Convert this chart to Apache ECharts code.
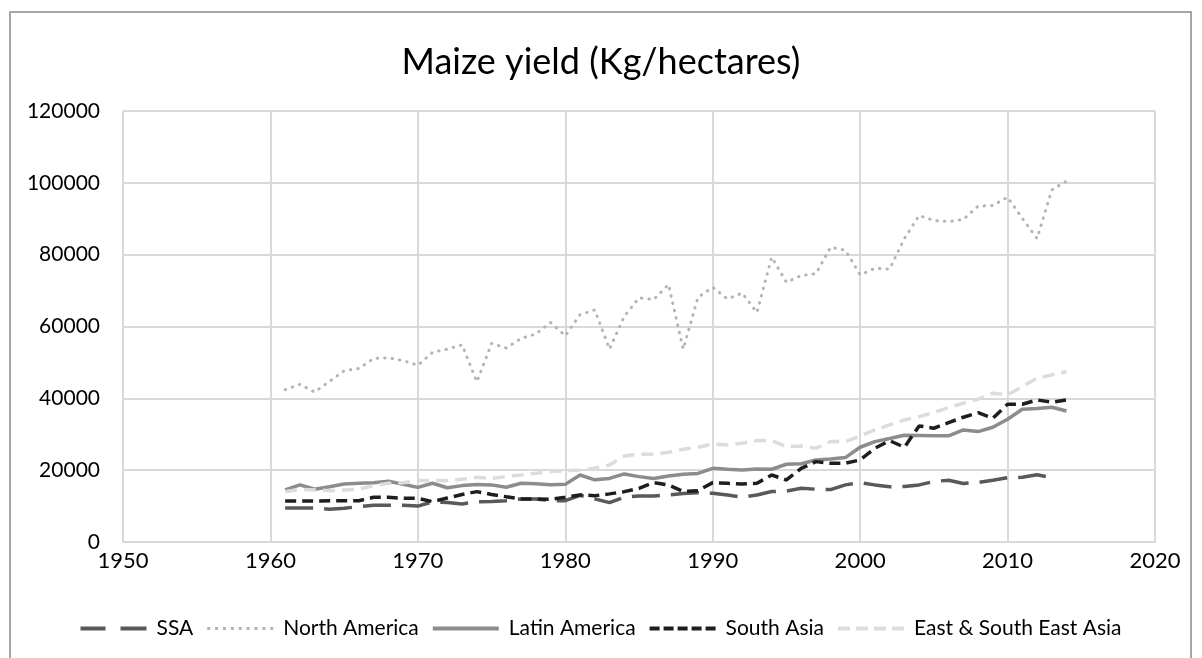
<!DOCTYPE html>
<html>
<head>
<meta charset="utf-8">
<script src="https://cdn.jsdelivr.net/npm/echarts@6/dist/echarts.min.js"></script>
<style>
html,body{margin:0;padding:0;background:#fff;}
#chart{width:1202px;height:658px;}
</style>
</head>
<body>
<div id="chart"></div>
<script>
const years = [1961,1962,1963,1964,1965,1966,1967,1968,1969,1970,1971,1972,1973,1974,1975,1976,1977,1978,1979,1980,1981,1982,1983,1984,1985,1986,1987,1988,1989,1990,1991,1992,1993,1994,1995,1996,1997,1998,1999,2000,2001,2002,2003,2004,2005,2006,2007,2008,2009,2010,2011,2012,2013,2014];

const ssa = [9500,9500,9500,9100,9400,9850,10200,10200,10200,10000,11200,11000,10600,11200,11300,11500,12000,12000,11500,11500,13000,12000,10950,12500,12800,12800,13100,13500,13700,13550,13100,12450,13100,14050,14200,14950,14700,14600,15900,16500,15900,15400,15450,15900,16850,17200,16300,16600,17200,17900,18000,18700,17900,null];

const northAmerica = [42400,43900,41750,44700,47700,48300,51100,51300,50500,49200,52800,53700,54900,44600,55300,54000,56700,57900,61100,57400,63300,64600,53700,62800,68000,67500,71700,53700,68100,70900,67700,69300,63900,79300,72300,74200,74700,82100,81200,74400,76200,76000,84500,90900,89500,89200,89800,93500,93700,96000,90100,84500,98000,100500];

const latinAmerica = [14500,15900,14700,15400,16150,16350,16500,16900,16100,15200,16350,15100,15700,16000,15900,15250,16350,16200,15950,16050,18650,17300,17700,18950,18200,17700,18400,18850,19100,20500,20250,20050,20350,20250,21640,21800,22850,23100,23500,26380,27950,28800,29700,29650,29550,29550,31200,30750,31950,34180,36980,37150,37500,36470];

const southAsia = [11420,11420,11400,11500,11500,11500,12440,12440,12150,12150,11240,12250,13240,14020,13240,12600,12000,12000,11900,12450,13100,12900,13400,14020,14950,16540,15880,14050,14300,16540,16350,16150,16350,18650,17270,20500,22380,21920,21920,22850,26100,28220,26380,32320,31670,33250,34730,36030,34460,38360,38360,39560,38920,39560];

const eastAsia = [13980,14670,14490,14300,14490,14670,15700,16350,16500,17100,17100,17100,17460,18010,17740,18200,18660,19130,19600,19870,20050,20520,21450,23960,24420,24420,24980,25820,26370,27300,27030,27500,28230,28230,26560,26750,26100,27950,27950,29530,31200,32600,33990,34920,36030,37420,38640,39760,41420,40960,43270,45600,46520,47450];

const seriesNames = ['SSA','North America','Latin America','South Asia','East & South East Asia'];
const titleText = 'Maize yield (Kg/hectares)';

function pairs(vals){ return years.map((y,i)=>[y, vals[i]]); }

// legend icon shapes (line-style samples)
function rects(list, h){ return 'path://' + list.map(([a,b])=>`M${a} 0H${b}V${h}H${a}Z`).join(' '); }
const dotList = []; for (let i=0;i<9;i++){ dotList.push([i*8, i*8+3]); }
const legendIcons = [
  rects([[0,25],[40,66]], 4),
  rects(dotList, 3),
  rects([[0,66]], 4),
  rects([[0,10],[14,24],[28,38],[42,52],[56,66]], 4),
  rects([[0,12],[18,30],[36,48],[54,66]], 4)
];

const FONT = 'Lato';
const chart = echarts.init(document.getElementById('chart'), null, {renderer:'canvas'});
chart.setOption({
  animation:false,
  backgroundColor:'#ffffff',
  textStyle:{fontFamily:FONT},
  title:{
    text:titleText, left:'center', top:39,
    textStyle:{fontFamily:FONT, fontSize:36, fontWeight:'normal', color:'#000'}
  },
  graphic:[{
    type:'rect', silent:true, z:-1,
    shape:{x:10, y:12, width:1181, height:700},
    style:{fill:'none', stroke:'#a6a6a6', lineWidth:2}
  }],
  grid:{left:123, right:47, top:111, bottom:116, containLabel:false},
  xAxis:{
    type:'value', min:1950, max:2020, interval:10,
    axisLine:{show:true, lineStyle:{color:'#d9d9d9', width:2}},
    axisTick:{show:false},
    splitLine:{show:true, lineStyle:{color:'#d9d9d9', width:2}},
    axisLabel:{color:'#000', fontSize:22, fontFamily:FONT, margin:8, formatter:v=>String(v)}
  },
  yAxis:{
    type:'value', min:0, max:120000, interval:20000,
    axisLine:{show:false}, axisTick:{show:false},
    splitLine:{show:true, lineStyle:{color:'#d9d9d9', width:2}},
    axisLabel:{color:'#000', fontSize:21, fontFamily:FONT, margin:23, formatter:v=>String(v)}
  },
  legend:{
    bottom:14, left:'center', itemWidth:66, itemHeight:4, itemGap:14,
    data: seriesNames.map((n,i)=>({name:n, icon:legendIcons[i]})),
    textStyle:{fontFamily:FONT, fontSize:21, color:'#000', padding:[0,0,0,5]}
  },
  series:[
    {name:seriesNames[0], type:'line', data:pairs(ssa), showSymbol:false, symbol:'none', connectNulls:false,
     lineStyle:{color:'#595959', width:3.5, type:[28,11]}, itemStyle:{color:'#595959'}},
    {name:seriesNames[1], type:'line', data:pairs(northAmerica), showSymbol:false, symbol:'none',
     lineStyle:{color:'#b4b4b4', width:3, type:[0.5,7], cap:'round'}, itemStyle:{color:'#b4b4b4'}},
    {name:seriesNames[2], type:'line', data:pairs(latinAmerica), showSymbol:false, symbol:'none',
     lineStyle:{color:'#8c8c8c', width:3.5}, itemStyle:{color:'#8c8c8c'}},
    {name:seriesNames[3], type:'line', data:pairs(southAsia), showSymbol:false, symbol:'none',
     lineStyle:{color:'#1e1e1e', width:3.5, type:[11,6]}, itemStyle:{color:'#1e1e1e'}},
    {name:seriesNames[4], type:'line', data:pairs(eastAsia), showSymbol:false, symbol:'none',
     lineStyle:{color:'#dcdcdc', width:3.5, type:[12,7]}, itemStyle:{color:'#dcdcdc'}}
  ]
});
</script>
</body>
</html>
